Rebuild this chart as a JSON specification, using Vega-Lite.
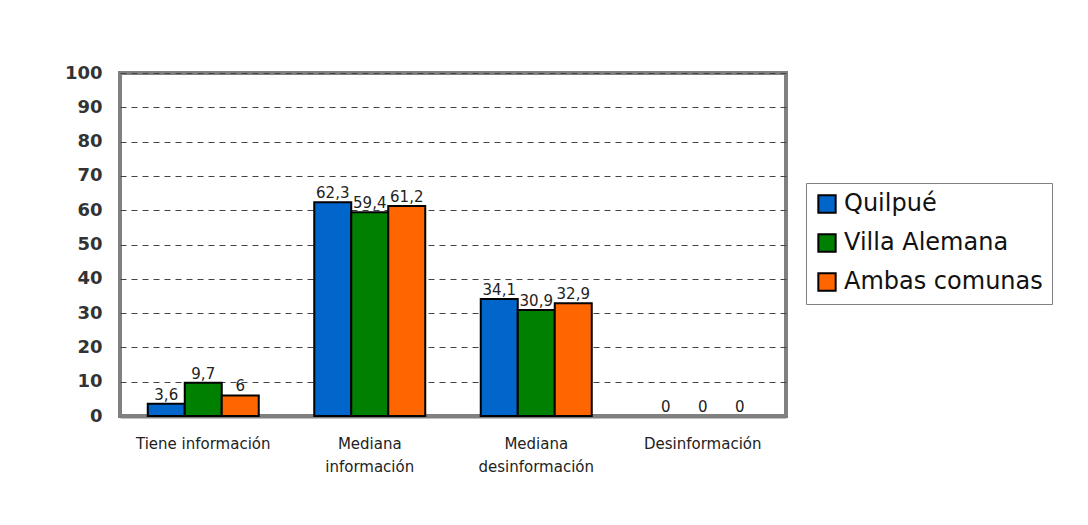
{
  "$schema": "https://vega.github.io/schema/vega-lite/v6.json",
  "autosize": "none",
  "width": 666,
  "height": 343,
  "padding": {"left": 120, "top": 73, "right": 302, "bottom": 109},
  "background": "white",
  "data": {
    "values": [
      {"cat": "Tiene información", "serie": "Quilpué", "v": 3.6},
      {"cat": "Tiene información", "serie": "Villa Alemana", "v": 9.7},
      {"cat": "Tiene información", "serie": "Ambas comunas", "v": 6},
      {"cat": "Mediana información", "serie": "Quilpué", "v": 62.3},
      {"cat": "Mediana información", "serie": "Villa Alemana", "v": 59.4},
      {"cat": "Mediana información", "serie": "Ambas comunas", "v": 61.2},
      {"cat": "Mediana desinformación", "serie": "Quilpué", "v": 34.1},
      {"cat": "Mediana desinformación", "serie": "Villa Alemana", "v": 30.9},
      {"cat": "Mediana desinformación", "serie": "Ambas comunas", "v": 32.9},
      {"cat": "Desinformación", "serie": "Quilpué", "v": 0},
      {"cat": "Desinformación", "serie": "Villa Alemana", "v": 0},
      {"cat": "Desinformación", "serie": "Ambas comunas", "v": 0}
    ]
  },
  "encoding": {
    "x": {
      "field": "cat", "type": "nominal",
      "sort": ["Tiene información", "Mediana información", "Mediana desinformación", "Desinformación"],
      "scale": {"paddingInner": 0, "paddingOuter": 0},
      "axis": {
        "title": null, "labelAngle": 0,
        "labelExpr": "indexof(datum.value,'Mediana')==0 ? split(datum.value,' ') : datum.value",
        "labelFont": "DejaVu Sans", "labelFontSize": 15, "labelColor": "#222",
        "labelLineHeight": 23, "labelPadding": 20, "ticks": false,
        "domainColor": "#808080", "domainWidth": 4
      }
    },
    "xOffset": {"field": "serie", "type": "nominal", "sort": ["Quilpué", "Villa Alemana", "Ambas comunas"],
      "scale": {"paddingInner": 0, "paddingOuter": 0.75}},
    "y": {
      "field": "v", "type": "quantitative",
      "scale": {"domain": [0, 100], "nice": false},
      "axis": {
        "title": null, "values": [0,10,20,30,40,50,60,70,80,90,100],
        "labelFont": "DejaVu Sans", "labelFontWeight": "bold", "labelFontSize": 18, "labelColor": "#333",
        "labelPadding": 18, "ticks": false, "domain": false,
        "gridColor": "#444", "gridDash": [6, 5], "gridWidth": 1.2
      }
    }
  },
  "layer": [
    {
      "mark": {"type": "bar", "stroke": "black"},
      "encoding": {
        "strokeWidth": {"condition": {"test": "datum.v == 0", "value": 0}, "value": 2},
        "color": {
          "field": "serie", "type": "nominal",
          "scale": {"domain": ["Quilpué", "Villa Alemana", "Ambas comunas"], "range": ["#0066CC", "#008000", "#FF6600"]},
          "legend": {
            "title": null, "orient": "none", "legendX": 686, "legendY": 110,
            "symbolType": "square", "symbolSize": 300, "symbolStrokeColor": "black", "symbolStrokeWidth": 2,
            "labelFont": "DejaVu Sans", "labelFontSize": 24, "labelColor": "#111", "labelLimit": 300,
            "rowPadding": 13, "padding": 9, "strokeColor": "#808080", "fillColor": "white", "labelOffset": 5
          }
        }
      }
    },
    {
      "mark": {"type": "text", "baseline": "bottom", "dy": -1, "font": "DejaVu Sans", "fontSize": 15, "color": "#222"},
      "encoding": {
        "text": {"field": "v", "type": "quantitative", "format": ".1~f"}
      }
    }
  ],
  "config": {
    "locale": {"number": {"decimal": ",", "thousands": ".", "grouping": [3], "currency": ["$", ""]}},
    "view": {"stroke": "#808080", "strokeWidth": 4}
  }
}
